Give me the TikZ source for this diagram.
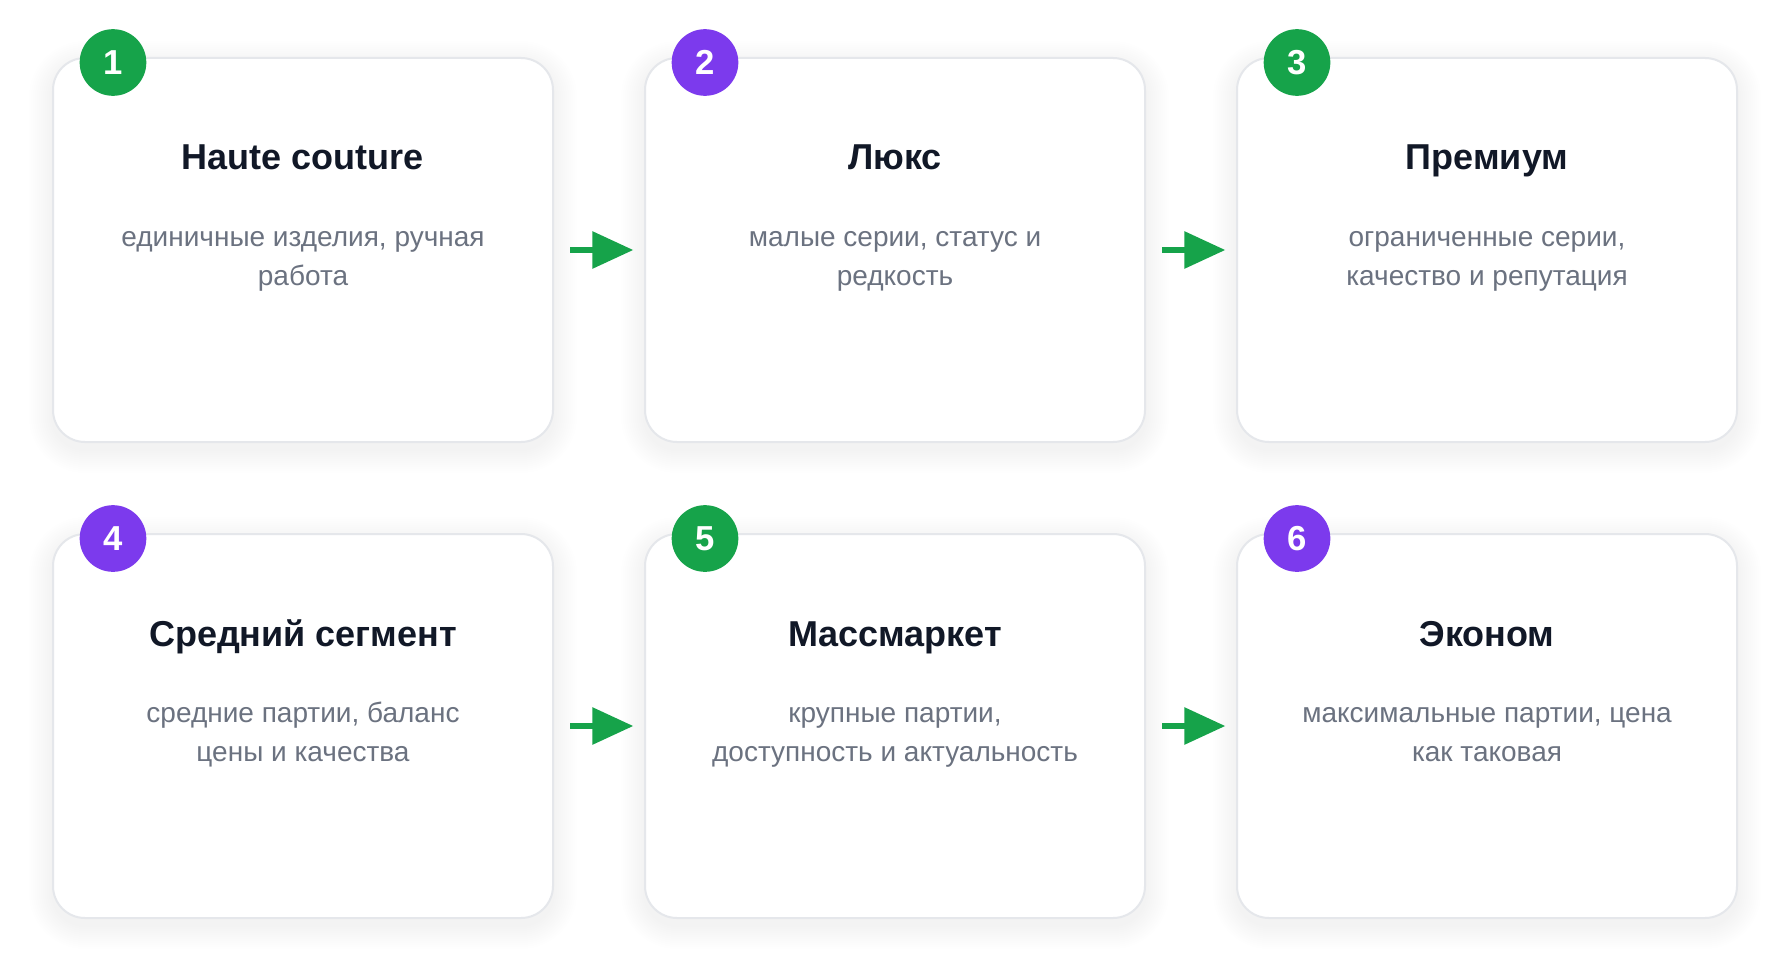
\documentclass[tikz,border=0pt]{standalone}
\usepackage{fontspec}
\setmainfont{Liberation Sans}
\usepackage{xcolor}
\usepackage{tikz}
\usetikzlibrary{arrows.meta}
\definecolor{cardgreen}{HTML}{16A34A}
\definecolor{cardpurple}{HTML}{7C3AED}
\definecolor{cardborder}{HTML}{E5E7EB}
\definecolor{titleink}{HTML}{111827}
\definecolor{descink}{HTML}{6B7280}
\tikzstyle{card} = [draw=cardborder, line width=1.5pt, fill=white, rounded corners=24pt, minimum width=375pt, minimum height=288pt, inner sep=0pt]
\tikzstyle{badge} = [circle, minimum size=50pt, inner sep=0pt, text=white, font=\bfseries\fontsize{26}{26}\selectfont]
\tikzstyle{cardtitle} = [anchor=base, text=titleink, font=\bfseries\fontsize{27}{27}\selectfont]
\tikzstyle{carddesc} = [anchor=base, align=center, text=descink, font=\fontsize{21}{29.6}\selectfont]
\tikzstyle{arrow} = [line width=4.5pt, draw=cardgreen, -{Triangle[length=30.75pt, width=27pt]}, shorten <=12pt, shorten >=8pt]

\begin{document}
\begin{tikzpicture}[x=0.75pt, y=-0.75pt]
    \fill[white] (0,0) rectangle (1790,977);

    % soft shadows under the cards
    \foreach \cx/\cy in {303/250, 895/250, 1487/250, 303/726, 895/726, 1487/726}
        \foreach \s in {2,4,...,24} {
            \pgfmathsetmacro\rr{24+0.75*\s}
            \fill[black, opacity=0.0045, rounded corners=\rr pt]
                (\cx-250-\s, \cy-192-\s+7) rectangle (\cx+250+\s, \cy+192+\s+7);
        }

    \node[card] (haute) at (303,250) {};
    \node[card] (lux) at (895,250) {};
    \node[card] (premium) at (1487,250) {};
    \node[card] (middle) at (303,726) {};
    \node[card] (mass) at (895,726) {};
    \node[card] (econom) at (1487,726) {};

    \node[badge, fill=cardgreen] (n1) at (113,62.5) {1};
    \node[badge, fill=cardpurple] (n2) at (705,62.5) {2};
    \node[badge, fill=cardgreen] (n3) at (1297,62.5) {3};
    \node[badge, fill=cardpurple] (n4) at (113,538.5) {4};
    \node[badge, fill=cardgreen] (n5) at (705,538.5) {5};
    \node[badge, fill=cardpurple] (n6) at (1297,538.5) {6};

    \node[cardtitle] (t1) at (303,170) {Haute couture};
    \node[cardtitle] (t2) at (895,170) {Люкс};
    \node[cardtitle] (t3) at (1487,170) {Премиум};
    \node[cardtitle] (t4) at (303,646) {Средний сегмент};
    \node[cardtitle] (t5) at (895,646) {Массмаркет};
    \node[cardtitle] (t6) at (1487,646) {Эконом};

    % base is the last line of each text
    \node[carddesc] (d1) at (303,285.5) {единичные изделия, ручная\\работа};
    \node[carddesc] (d2) at (895,285.5) {малые серии, статус и\\редкость};
    \node[carddesc] (d3) at (1487,285.5) {ограниченные серии,\\качество и репутация};
    \node[carddesc] (d4) at (303,761.5) {средние партии, баланс\\цены и качества};
    \node[carddesc] (d5) at (895,761.5) {крупные партии,\\доступность и актуальность};
    \node[carddesc] (d6) at (1487,761.5) {максимальные партии, цена\\как таковая};

    \draw[arrow] (haute) -- (lux);
    \draw[arrow] (lux) -- (premium);
    \draw[arrow] (middle) -- (mass);
    \draw[arrow] (mass) -- (econom);
\end{tikzpicture}
\end{document}
